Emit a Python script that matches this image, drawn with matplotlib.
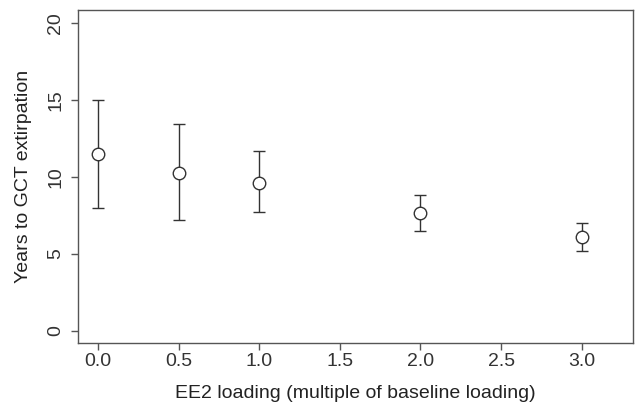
import matplotlib
matplotlib.use("Agg")
import matplotlib.pyplot as plt
import numpy as np

plt.rcParams['font.family'] = ['Liberation Sans', 'DejaVu Sans']

# EE2 loading multiples and years to extirpation (mean, upper, lower)
loading = [0.0, 0.5, 1.0, 2.0, 3.0]
years = [11.47, 10.26, 9.63, 7.68, 6.08]
upper = [15.02, 13.42, 11.69, 8.85, 6.99]
lower = [7.97, 7.21, 7.73, 6.51, 5.21]

xticks = [0.0, 0.5, 1.0, 1.5, 2.0, 2.5, 3.0]
yticks = [0, 5, 10, 15, 20]

years = np.array(years)
err = [years - np.array(lower), np.array(upper) - years]

fig = plt.figure(figsize=(6.36, 4.05), dpi=100)
ax = fig.add_axes([0.1226, 0.153, 0.8724, 0.822])

ax.errorbar(loading, years, yerr=err, fmt='o', mfc='white', mec='#333333',
            ecolor='#333333', elinewidth=1, capsize=4, capthick=1,
            markersize=9, mew=1)

ax.set_xlim(-0.124, 3.317)
ax.set_ylim(-0.78, 20.84)
ax.set_xticks(xticks)
ax.set_xticklabels([f"{t:.1f}" for t in xticks])
ax.set_yticks(yticks)
ax.set_yticklabels([str(t) for t in yticks], rotation=90, va='center')

for s in ax.spines.values():
    s.set_color('#555555')
    s.set_linewidth(1)
ax.tick_params(direction='out', length=5, width=1, color='#555555',
               labelsize=14, labelcolor='#333333')
ax.tick_params(axis='x', pad=2)
ax.tick_params(axis='y', pad=5)
ax.set_xlabel("EE2 loading (multiple of baseline loading)", fontsize=14,
              color='#222222', labelpad=11)
ax.set_ylabel("Years to GCT extirpation", fontsize=14, color='#222222',
              labelpad=11)

fig.savefig("out.png", dpi=100)
